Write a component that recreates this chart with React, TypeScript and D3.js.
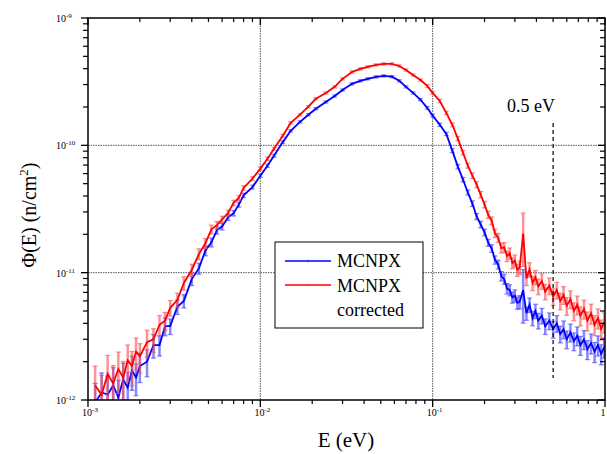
import React from "react";
import * as d3 from "d3";

// Energy bins (eV)
const ENERGY = [
  1.1e-3, 1.2e-3, 1.3e-3, 1.4e-3, 1.5e-3, 1.6e-3, 1.7e-3, 1.8e-3, 1.9e-3, 2.0e-3,
  2.2e-3, 2.4e-3, 2.6e-3, 2.8e-3, 3.0e-3, 3.3e-3, 3.6e-3, 4.0e-3, 4.4e-3, 4.8e-3,
  5.2e-3, 5.6e-3, 6.0e-3, 6.5e-3, 7.0e-3, 7.5e-3, 8.0e-3, 9.0e-3, 1.0e-2, 1.1e-2,
  1.2e-2, 1.35e-2, 1.5e-2, 1.7e-2, 1.9e-2, 2.1e-2, 2.4e-2, 2.7e-2, 3.0e-2, 3.4e-2,
  3.8e-2, 4.2e-2, 4.7e-2, 5.2e-2, 5.8e-2, 6.4e-2, 7.0e-2, 7.7e-2, 8.5e-2, 9.3e-2,
  0.10, 0.11, 0.12, 0.13, 0.14, 0.15, 0.16, 0.17, 0.18, 0.19,
  0.20, 0.21, 0.22, 0.23, 0.24, 0.25, 0.26, 0.27, 0.28, 0.29,
  0.30, 0.31, 0.32, 0.335, 0.35, 0.365, 0.38, 0.395, 0.41, 0.43,
  0.45, 0.475, 0.50, 0.525, 0.55, 0.575, 0.60, 0.63, 0.66, 0.69,
  0.72, 0.755, 0.79, 0.83, 0.87, 0.91, 0.95, 0.99,
];

// Flux values in units of 1e-12 n/cm^2
const PHI_UNIT = 1e-12;
const MCNPX = [
  0.95, 1.15, 1.1, 1.3, 1.05, 1.45, 1.25, 1.7, 1.5, 1.85,
  2.0, 2.7, 2.7, 3.8, 3.8, 5.4, 6.0, 8.9, 10.8, 14.9,
  17.3, 21.6, 23.0, 27.2, 29.3, 34.2, 40.5, 47.0, 57.8, 69.2,
  82.9, 106, 130, 153, 174, 194, 219, 244, 272, 304,
  321, 333, 345, 351, 346, 321, 288, 258, 228, 197,
  171, 145, 123, 90.8, 68, 53.8, 42.6, 34.9, 27.6, 23.9,
  20.7, 17.2, 15.5, 12.6, 11.6, 9.4, 8.9, 7.5, 7.3, 6.4,
  6.6, 5.8, 5.9, 7.3, 4.8, 5.6, 4.4, 5.0, 4.2, 4.6,
  3.8, 4.2, 3.6, 4.0, 3.3, 3.6, 3.0, 3.4, 2.9, 3.2,
  2.7, 3.0, 2.5, 2.8, 2.4, 2.7, 2.3, 2.6,
];
const CORRECTED = [
  1.3, 1.1, 1.6, 1.35, 1.75, 1.5, 2.05, 1.85, 2.4, 2.2,
  2.85, 3.0, 3.9, 4.2, 5.3, 6.1, 8.3, 10.5, 14.0, 17.0,
  21.9, 23.6, 26.2, 29.4, 35.3, 38.6, 46.3, 54.8, 65.6, 78.5,
  94.0, 119, 150, 174, 201, 232, 258, 288, 333, 377,
  398, 413, 428, 436, 436, 420, 391, 357, 326, 293,
  258, 223, 180, 145, 113, 87.5, 69.2, 57.8, 49.2, 41.0,
  34.3, 28.5, 25.6, 20.4, 18.8, 15.6, 15.8, 13.5, 14.2, 11.9,
  12.4, 10.5, 11.0, 20.3, 9.0, 10.6, 8.3, 9.2, 7.8, 8.6,
  7.1, 7.9, 6.5, 7.3, 6.0, 6.7, 5.5, 6.2, 5.0, 5.6,
  4.6, 5.2, 4.2, 4.8, 3.9, 4.4, 3.6, 4.1,
];
// Relative statistical error per bin
const REL_ERR = [
  0.42, 0.42, 0.4, 0.38, 0.36, 0.34, 0.32, 0.3, 0.28, 0.26,
  0.24, 0.21, 0.18, 0.16, 0.14, 0.13, 0.12, 0.11, 0.1, 0.09,
  0.08, 0.07, 0.06, 0.055, 0.05, 0.045, 0.04, 0.035, 0.03, 0.03,
  0.025, 0.025, 0.02, 0.02, 0.02, 0.02, 0.02, 0.02, 0.02, 0.02,
  0.02, 0.02, 0.02, 0.02, 0.02, 0.02, 0.02, 0.02, 0.02, 0.025,
  0.025, 0.03, 0.03, 0.035, 0.04, 0.04, 0.045, 0.05, 0.055, 0.06,
  0.06, 0.065, 0.07, 0.075, 0.08, 0.085, 0.09, 0.095, 0.1, 0.1,
  0.11, 0.11, 0.12, 0.45, 0.12, 0.13, 0.13, 0.13, 0.14, 0.14,
  0.14, 0.15, 0.15, 0.15, 0.15, 0.16, 0.16, 0.16, 0.16, 0.17,
  0.17, 0.17, 0.17, 0.18, 0.18, 0.18, 0.18, 0.18,
];

const X_MAJOR = [1e-3, 1e-2, 1e-1, 1];
const X_MAJOR_EXP = ["-3", "-2", "-1", ""];
const Y_MAJOR = [1e-12, 1e-11, 1e-10, 1e-9];
const Y_MAJOR_EXP = ["-12", "-11", "-10", "-9"];
const X_GRID = [1e-2, 1e-1];
const Y_GRID = [1e-11, 1e-10];
const MARKER_E = 0.5;
const SERIES = [
  { name: "MCNPX", values: MCNPX, color: "#0000ff", err: "#3a3aff" },
  { name: "MCNPX corrected", values: CORRECTED, color: "#ff0000", err: "#ff4a4a" },
];

const W = 607;
const H = 454;
const L = 88, R = 605, T = 18, B = 400;
const FONT = "'Liberation Serif', 'Times New Roman', Times, serif";

export default function App() {
  const x = d3.scaleLog().domain([1e-3, 1]).range([L, R]);
  const y = d3.scaleLog().domain([1e-12, 1e-9]).range([B, T]);
  const xMinor = x.ticks().filter((t) => !X_MAJOR.some((m) => Math.abs(m - t) / m < 1e-6));
  const yMinor = y.ticks().filter((t) => !Y_MAJOR.some((m) => Math.abs(m - t) / m < 1e-6));

  const line = d3
    .line<number>()
    .x((_, i) => x(ENERGY[i]))
    .y((v) => y(v * PHI_UNIT));

  return (
    <svg width={W} height={H} style={{ position: "absolute", left: 0, top: 0, background: "#fff", fontFamily: FONT }}>
      <defs>
        <clipPath id="plotclip">
          <rect x={L} y={T} width={R - L} height={B - T} />
        </clipPath>
      </defs>
      <rect x={0} y={0} width={W} height={H} fill="#fff" />

      {/* grid */}
      {X_GRID.map((g) => (
        <line key={"gx" + g} x1={x(g)} x2={x(g)} y1={T} y2={B} stroke="#555" strokeWidth={1} strokeDasharray="1.5,1" />
      ))}
      {Y_GRID.map((g) => (
        <line key={"gy" + g} x1={L} x2={R} y1={y(g)} y2={y(g)} stroke="#555" strokeWidth={1} strokeDasharray="1.5,1" />
      ))}

      {/* data */}
      <g clipPath="url(#plotclip)">
        {SERIES.map((s) => (
          <g key={s.name}>
            {s.values.map((v, i) => {
              const cx = x(ENERGY[i]);
              const lo = y(v * PHI_UNIT * (1 - REL_ERR[i]));
              const hi = y(v * PHI_UNIT * (1 + REL_ERR[i]));
              return (
                <g key={i} stroke={s.err} strokeOpacity={0.6}>
                  <line x1={cx} x2={cx} y1={lo} y2={hi} strokeWidth={2.5} />
                  <line x1={cx - 2.5} x2={cx + 2.5} y1={lo} y2={lo} strokeWidth={1.2} />
                  <line x1={cx - 2.5} x2={cx + 2.5} y1={hi} y2={hi} strokeWidth={1.2} />
                </g>
              );
            })}
            <path d={line(s.values) || ""} fill="none" stroke={s.color} strokeWidth={1.8} />
          </g>
        ))}
      </g>

      {/* 0.5 eV marker */}
      <line x1={x(MARKER_E)} x2={x(MARKER_E)} y1={123} y2={378} stroke="#000" strokeWidth={1.2} strokeDasharray="4,3" />
      <text x={x(MARKER_E) - 22} y={112} fontSize={18} textAnchor="middle" fill="#000">0.5 eV</text>

      {/* frame */}
      <rect x={L} y={T} width={R - L} height={B - T} fill="none" stroke="#000" strokeWidth={1.5} />

      {/* x ticks */}
      {X_MAJOR.map((t) => (
        <g key={"xm" + t}>
          <line x1={x(t)} x2={x(t)} y1={B} y2={B + 7} stroke="#000" strokeWidth={1.3} />
          <line x1={x(t)} x2={x(t)} y1={T} y2={T + 7} stroke="#000" strokeWidth={1.3} />
        </g>
      ))}
      {xMinor.map((t) => (
        <g key={"xn" + t}>
          <line x1={x(t)} x2={x(t)} y1={B} y2={B + 4} stroke="#000" strokeWidth={1.2} />
          <line x1={x(t)} x2={x(t)} y1={T} y2={T + 4} stroke="#000" strokeWidth={1.2} />
        </g>
      ))}
      {X_MAJOR.map((t, i) => (
        <text key={"xl" + t} x={x(t) + (X_MAJOR_EXP[i] ? 2 : -2)} y={416} fontSize={10} textAnchor="middle" fill="#000">
          {X_MAJOR_EXP[i] ? (
            <>
              10<tspan fontSize={7} dy={-4}>{X_MAJOR_EXP[i]}</tspan>
            </>
          ) : (
            "1"
          )}
        </text>
      ))}

      {/* y ticks */}
      {Y_MAJOR.map((t) => (
        <g key={"ym" + t}>
          <line x1={L - 7} x2={L} y1={y(t)} y2={y(t)} stroke="#000" strokeWidth={1.3} />
          <line x1={R - 7} x2={R} y1={y(t)} y2={y(t)} stroke="#000" strokeWidth={1.3} />
        </g>
      ))}
      {yMinor.map((t) => (
        <g key={"yn" + t}>
          <line x1={L - 5} x2={L} y1={y(t)} y2={y(t)} stroke="#000" strokeWidth={1.2} />
          <line x1={R - 5} x2={R} y1={y(t)} y2={y(t)} stroke="#000" strokeWidth={1.2} />
        </g>
      ))}
      {Y_MAJOR.map((t, i) => (
        <text key={"yl" + t} x={56} y={y(t) + 4} fontSize={10} textAnchor="start" fill="#000">
          10<tspan fontSize={7} dy={-4}>{Y_MAJOR_EXP[i]}</tspan>
        </text>
      ))}

      {/* axis titles */}
      <text x={346} y={447} fontSize={21} textAnchor="middle" fill="#000">E (eV)</text>
      <text transform="translate(36,215) rotate(-90)" fontSize={20} textAnchor="middle" fill="#000">
        Φ(E) (n/cm<tspan fontSize={13} dy={-8}>2</tspan><tspan dy={8}>)</tspan>
      </text>

      {/* legend */}
      <rect x={275} y={242} width={148} height={86} fill="#fff" stroke="#000" strokeWidth={1} />
      {SERIES.map((s, i) => {
        const ly = 261 + i * 24;
        return (
          <g key={"lg" + i}>
            <line x1={285} x2={331} y1={ly} y2={ly} stroke={s.color} strokeWidth={1.6} />
            <line x1={308} x2={308} y1={ly - 1.5} y2={ly + 1.5} stroke={s.err} strokeOpacity={0.6} strokeWidth={1} />
          </g>
        );
      })}
      <text x={337} y={267} fontSize={18} fill="#000">MCNPX</text>
      <text x={337} y={292} fontSize={18} fill="#000">MCNPX</text>
      <text x={337} y={316} fontSize={18} fill="#000">corrected</text>
    </svg>
  );
}
